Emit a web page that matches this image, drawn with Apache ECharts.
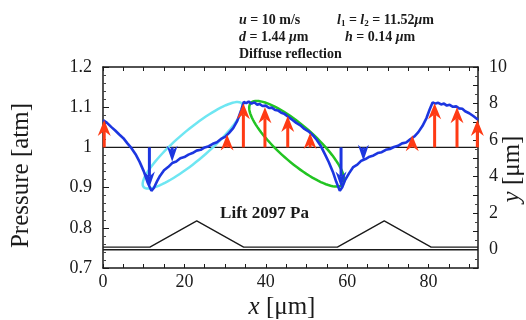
<!DOCTYPE html>
<html><head><meta charset="utf-8">
<script src="https://cdn.jsdelivr.net/npm/echarts@6/dist/echarts.min.js"></script>
<style>html,body{margin:0;padding:0;background:#fff}#c{width:526px;height:320px}</style>
</head><body><div id="c"></div>
<script>
// ---- data ----
const xMax = 92.16;
const curveX = [0,1,2,3,4,5,6,7,8,9,10,11,11.9,12.5,13.3,14,15,16,17,18,19,20,21,22,23,24,25,26,27,28,29,30,31,32,33,34,34.6,35.2,35.8,36.5,37.2,37.9,38.5,39.2,40,40.8,41.5,42.3,43,43.8,44.5,45.5,46.5,47.5,48.5,49.5,50.5,51.5,52.5,53.5,54.5,55.5,56.5,57.3,58.2,58.8,59.5,60.5,61.5,62.5,63.5,64.5,65.5,66.5,67.5,68.5,69.5,70.5,71.5,72.5,73.5,74.5,75.5,76.5,77.5,78.5,79.5,80.3,81,81.7,82.4,83.1,83.8,84.5,85.2,86,86.8,87.5,88.3,89,90,91,92.16];
const curveP = [1.068,1.061,1.051,1.042,1.032,1.023,1.010,0.998,0.983,0.964,0.941,0.912,0.892,0.899,0.916,0.929,0.943,0.951,0.961,0.965,0.973,0.976,0.982,0.986,0.992,0.994,1.000,1.003,1.009,1.013,1.021,1.026,1.036,1.048,1.066,1.094,1.113,1.110,1.114,1.109,1.112,1.106,1.108,1.103,1.104,1.098,1.099,1.093,1.092,1.086,1.084,1.076,1.069,1.061,1.055,1.046,1.040,1.031,1.019,1.004,0.984,0.963,0.939,0.915,0.892,0.901,0.919,0.936,0.951,0.957,0.967,0.971,0.977,0.980,0.986,0.988,0.994,0.996,1.001,1.004,1.010,1.012,1.020,1.027,1.038,1.053,1.073,1.095,1.112,1.109,1.111,1.107,1.109,1.104,1.106,1.101,1.102,1.097,1.096,1.090,1.085,1.078,1.069];
const arrowX = [0.3,11.4,17.0,30.5,34.5,39.8,45.4,50.9,58.5,64.0,76.0,81.5,87.0,92.0];
const arrowP = [1.068,0.900,0.964,1.032,1.110,1.100,1.078,1.036,0.900,0.967,1.030,1.110,1.100,1.068];
const refX = [0, xMax];
const refP = [1, 1];
const profileX = [0, 11.52, 23.04, 34.56, 57.6, 69.12, 80.64, 92.16];
const profileY = [0.14, 0.14, 1.58, 0.14, 0.14, 1.58, 0.14, 0.14];
const plateX = [0, xMax];
const plateY = [0, 0];
const ellipseCyan = [9.98, 0.9015, 34.15, 1.109];
const ellipseGreen = [36.3, 1.11, 58.9, 0.908];
const xTickLabels = [0, 20, 40, 60, 80];
const rightTickLabels = [0, 2, 4, 6, 8, 10];

// ---- styles ----
const SERIF = 'Liberation Serif';
const RED = '#ff3a14';
const BLUE = '#1c36e0';
const INK = '#1a1a1a';
const ellipseHalfWidth = [15, 18];
const ellipseColor = ['#6ee6f2', '#22c422'];

const chart = echarts.init(document.getElementById('c'), null, {renderer: 'canvas'});

function renderArrow(params, api) {
  const x = api.value(0), p = api.value(1);
  const b = api.coord([x, 1]);
  const t = api.coord([x, p]);
  const up = p > 1;
  const s = up ? 1 : -1;
  const color = up ? RED : BLUE;
  const hl = 16, hw = up ? 6.5 : 5.5, notch = 5;
  const children = [];
  const shaftEnd = t[1] + s * (hl - notch);
  if ((up && shaftEnd < b[1]) || (!up && shaftEnd > b[1])) {
    children.push({type: 'line', shape: {x1: b[0], y1: b[1], x2: t[0], y2: shaftEnd},
      style: {stroke: color, lineWidth: 3}});
  }
  children.push({type: 'polygon', shape: {points: [[t[0], t[1]], [t[0] - hw, t[1] + s * hl], [t[0], t[1] + s * (hl - notch)], [t[0] + hw, t[1] + s * hl]]},
    style: {fill: color}});
  return {type: 'group', children};
}

function renderEllipse(params, api) {
  const p1 = api.coord([api.value(0), api.value(1)]);
  const p2 = api.coord([api.value(2), api.value(3)]);
  const idx = params.dataIndex;
  const cx = (p1[0] + p2[0]) / 2, cy = (p1[1] + p2[1]) / 2;
  const dx = p2[0] - p1[0], dy = p2[1] - p1[1];
  const a = Math.sqrt(dx * dx + dy * dy) / 2;
  const ux = dx / (2 * a), uy = dy / (2 * a);
  const nx = -uy, ny = ux;
  const bw = ellipseHalfWidth[idx];
  const pts = [];
  for (let k = 0; k < 96; k++) {
    const th = k / 96 * Math.PI * 2;
    const c = Math.cos(th) * a, sn = Math.sin(th) * bw;
    pts.push([cx + ux * c + nx * sn, cy + uy * c + ny * sn]);
  }
  return {type: 'polygon', shape: {points: pts}, style: {fill: 'none', stroke: ellipseColor[idx], lineWidth: 2.5}};
}

const labelBase = {fontFamily: SERIF, fontSize: 18, color: INK};

const option = {
  animation: false,
  backgroundColor: '#fff',
  grid: {left: 103, right: 48, top: 67, bottom: 52, containLabel: false},
  xAxis: [
    {type: 'value', min: 0, max: xMax, interval: 5, position: 'bottom',
      axisLine: {show: true, onZero: false, lineStyle: {color: INK, width: 1.5}},
      axisTick: {show: true, inside: true, length: 4, lineStyle: {color: INK}},
      splitLine: {show: false},
      axisLabel: Object.assign({}, labelBase, {margin: 5, showMaxLabel: false,
        formatter: v => xTickLabels.indexOf(Math.round(v * 100) / 100) >= 0 ? String(v) : ''})},
    {type: 'value', min: 0, max: xMax, interval: 5, position: 'top',
      axisLine: {show: true, onZero: false, lineStyle: {color: INK, width: 1.5}},
      axisTick: {show: true, inside: true, length: 4, lineStyle: {color: INK}},
      splitLine: {show: false}, axisLabel: {show: false}}
  ],
  yAxis: [
    {type: 'value', min: 0.7, max: 1.2, interval: 0.1, position: 'left',
      axisLine: {show: true, onZero: false, lineStyle: {color: INK, width: 1.5}},
      axisTick: {show: true, inside: true, length: 6, lineStyle: {color: INK}},
      minorTick: {show: true, splitNumber: 5, length: 3, lineStyle: {color: '#444'}},
      splitLine: {show: false},
      axisLabel: Object.assign({}, labelBase, {margin: 11,
        formatter: v => String(Math.round(v * 10) / 10)})},
    {type: 'value', min: -1, max: 10, interval: 1, position: 'right',
      axisLine: {show: true, onZero: false, lineStyle: {color: INK, width: 1.5}},
      axisTick: {show: true, inside: true, length: 5, lineStyle: {color: INK}},
      minorTick: {show: true, splitNumber: 2, length: 3, lineStyle: {color: '#444'}},
      splitLine: {show: false},
      axisLabel: Object.assign({}, labelBase, {margin: 11,
        formatter: v => rightTickLabels.indexOf(Math.round(v)) >= 0 ? String(Math.round(v)) : ''})}
  ],
  series: [
    {type: 'line', xAxisIndex: 0, yAxisIndex: 1, data: plateX.map((x, i) => [x, plateY[i]]),
      showSymbol: false, lineStyle: {color: INK, width: 1.3}, z: 2},
    {type: 'line', xAxisIndex: 0, yAxisIndex: 1, data: profileX.map((x, i) => [x, profileY[i]]),
      showSymbol: false, lineStyle: {color: INK, width: 1.3}, z: 2},
    {type: 'line', xAxisIndex: 0, yAxisIndex: 0, data: refX.map((x, i) => [x, refP[i]]),
      showSymbol: false, lineStyle: {color: INK, width: 1.3}, z: 2},
    {type: 'custom', xAxisIndex: 0, yAxisIndex: 0, renderItem: renderEllipse,
      data: [ellipseCyan, ellipseGreen], z: 3, clip: false},
    {type: 'line', xAxisIndex: 0, yAxisIndex: 0, data: curveX.map((x, i) => [x, curveP[i]]),
      showSymbol: false, lineStyle: {color: BLUE, width: 2.6}, z: 4},
    {type: 'custom', xAxisIndex: 0, yAxisIndex: 0, renderItem: renderArrow,
      data: arrowX.map((x, i) => [x, arrowP[i]]), z: 5, clip: false}
  ],
  graphic: [
    {type: 'text', x: 239, y: 20, style: {text: '{bi|u}{b| = 10 m/s}', verticalAlign: 'middle', align: 'left',
      rich: {bi: {fontFamily: SERIF, fontSize: 14, fontWeight: 'bold', fontStyle: 'italic', fill: INK},
             b: {fontFamily: SERIF, fontSize: 14, fontWeight: 'bold', fill: INK}}}},
    {type: 'text', x: 337, y: 20, style: {text: '{bi|l}{sub|1}{b| = }{bi|l}{sub|2}{b| = 11.52}{bi|μ}{b|m}', verticalAlign: 'middle', align: 'left',
      rich: {bi: {fontFamily: SERIF, fontSize: 14, fontWeight: 'bold', fontStyle: 'italic', fill: INK},
             b: {fontFamily: SERIF, fontSize: 14, fontWeight: 'bold', fill: INK},
             sub: {fontFamily: SERIF, fontSize: 9, fontWeight: 'bold', fill: INK, padding: [8, 0, 0, 0]}}}},
    {type: 'text', x: 239, y: 37, style: {text: '{bi|d}{b| = 1.44 }{bi|μ}{b|m}', verticalAlign: 'middle', align: 'left',
      rich: {bi: {fontFamily: SERIF, fontSize: 14, fontWeight: 'bold', fontStyle: 'italic', fill: INK},
             b: {fontFamily: SERIF, fontSize: 14, fontWeight: 'bold', fill: INK}}}},
    {type: 'text', x: 345, y: 37, style: {text: '{bi|h}{b| = 0.14 }{bi|μ}{b|m}', verticalAlign: 'middle', align: 'left',
      rich: {bi: {fontFamily: SERIF, fontSize: 14, fontWeight: 'bold', fontStyle: 'italic', fill: INK},
             b: {fontFamily: SERIF, fontSize: 14, fontWeight: 'bold', fill: INK}}}},
    {type: 'text', x: 239, y: 54, style: {text: 'Diffuse reflection', verticalAlign: 'middle', align: 'left',
      fontFamily: SERIF, fontSize: 14, fontWeight: 'bold', fill: INK}},
    {type: 'text', x: 264.5, y: 213.5, style: {text: 'Lift 2097 Pa', verticalAlign: 'middle', align: 'center',
      fontFamily: SERIF, fontSize: 17, fontWeight: 'bold', fill: INK}},
    {type: 'text', x: 21, y: 175.5, rotation: Math.PI / 2, style: {text: 'Pressure [atm]', verticalAlign: 'middle', align: 'center',
      fontFamily: SERIF, fontSize: 25, fill: INK}},
    {type: 'text', x: 282, y: 307, style: {text: '{i|x}{r| [μm]}', verticalAlign: 'middle', align: 'center',
      rich: {i: {fontFamily: SERIF, fontSize: 25, fontStyle: 'italic', fill: INK},
             r: {fontFamily: SERIF, fontSize: 25, fill: INK}}}},
    {type: 'text', x: 512, y: 169, rotation: Math.PI / 2, style: {text: '{i|y}{r| [μm]}', verticalAlign: 'middle', align: 'center',
      rich: {i: {fontFamily: SERIF, fontSize: 25, fontStyle: 'italic', fill: INK},
             r: {fontFamily: SERIF, fontSize: 25, fill: INK}}}}
  ]
};
chart.setOption(option);
</script>
</body></html>
